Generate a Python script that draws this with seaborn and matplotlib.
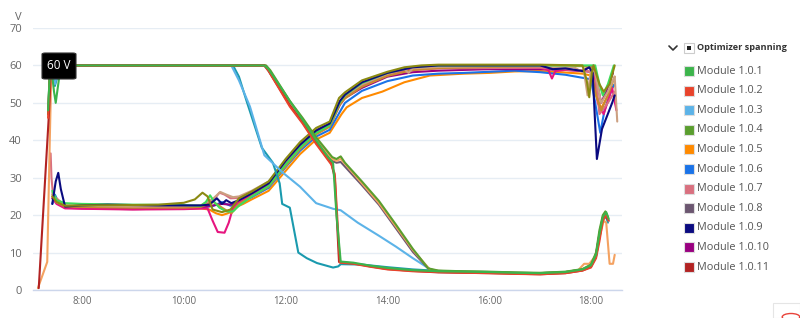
import matplotlib
matplotlib.use("Agg")
import matplotlib.pyplot as plt
import seaborn as sns
import pandas as pd
from matplotlib.patches import FancyBboxPatch, Rectangle, Circle
from matplotlib.lines import Line2D

# ---------------- data ----------------
# High-voltage group (start at 60 V, decline around noon)
m101_t = ["7:20","7:22","7:24","7:27","7:29","7:32","7:35","11:35","11:40","12:05","12:20","12:36","12:50","12:56","13:00","13:05","13:20","13:40","14:00","14:30","15:00","15:30","16:00","16:30","17:00","17:30","17:50","18:00","18:06","18:10","18:14","18:18","18:21"]
m101_v = [48,58,59,53,50,55,60,60,59,50.5,45.5,40,35.5,34,20,7.6,7.3,6.5,5.9,5.3,5.0,4.9,4.8,4.6,4.5,4.8,5.5,6.6,9.5,15,19.5,20.8,19]
m102_t = ["7:20","7:22","7:24","11:35","11:40","12:05","12:20","12:36","12:54","12:58","13:04","13:20","13:40","14:00","14:30","15:00","15:30","16:00","16:30","17:00","17:30","17:50","18:00","18:06","18:10","18:14","18:18","18:21"]
m102_v = [46,57,60,60,58.5,49,44.5,39,33.5,31,7.3,7.0,6.2,5.5,5.0,4.8,4.6,4.5,4.3,4.2,4.5,5.2,6.0,8.5,13,18.5,20,18.5]
m1011_t = ["7:09","7:21","7:23","7:25","11:35","11:40","12:05","12:20","12:36","12:54","12:58","13:03","13:20","13:40","14:00","14:30","15:00","16:00","17:00","17:30","17:50","18:00","18:06","18:10","18:14","18:17","18:20"]
m1011_v = [0.5,47,57,60,60,58.7,49.3,44.8,39.3,33.8,30,7.5,7.1,6.3,5.6,5.1,4.7,4.5,4.2,4.5,5.2,6.2,9,14,19,20.2,18.8]
m103_t = ["7:21","7:23","7:26","7:28","7:31","7:34","10:56","11:05","11:18","11:35","11:57","12:17","12:36","12:56","13:05","13:25","13:50","14:10","14:30","14:50","15:00","15:30","16:00","16:30","17:00","17:30","17:50","18:00","18:06","18:10","18:14","18:18","18:21"]
m103_v = [49,58,56,55,58,60,60,56,49,36,31.3,27.6,23.2,21.7,21.3,18,14.5,11.6,8.5,5.6,5.0,4.8,4.7,4.5,4.4,4.7,5.4,6.4,9,14.5,19,20.2,18.5]
m1012_t = ["7:21","7:23","7:26","7:28","7:31","7:34","10:58","11:05","11:14","11:32","11:45","11:53","11:56","12:05","12:10","12:15","12:25","12:37","12:56","13:02","13:05","13:30","14:00","14:30","15:00","15:30","16:00","16:30","17:00","17:30","17:50","18:00","18:06","18:10","18:14","18:18","18:20"]
m1012_v = [48,58,57,54.5,57,60,60,57,50.5,38,34,28.5,23,22,16,10,8.5,7.2,6.0,6.3,6.9,6.8,6.1,5.5,5.1,4.9,4.8,4.6,4.5,4.8,5.5,6.5,9.2,14.8,19,19.5,18]
m104_t = ["7:20","7:22","7:24","11:37","11:42","12:05","12:20","12:36","12:55","13:00","13:05","13:10","13:30","13:50","14:10","14:30","14:48","15:00","15:30","16:00","16:30","17:00","17:30","17:50","18:00","18:06","18:10","18:14","18:17","18:20"]
m104_v = [47,58,60,60,58.7,50.5,46,40.8,35.5,35,35.7,34,29,23.8,17.5,11,5.8,5.2,5.0,4.9,4.7,4.6,4.9,5.6,6.8,10,16,20,21,19.5]
m1013_t = ["7:08","7:19","7:22","7:24","11:36","11:41","12:05","12:20","12:36","12:55","13:00","13:05","13:30","13:50","14:10","14:30","14:50","15:00","15:30","16:00","16:30","17:00","17:30","17:45","17:52","17:58","18:05","18:10","18:15","18:18","18:22","18:26","18:28"]
m1013_v = [0.5,7.5,40,60,60,58.5,50,45.3,40.2,35,34.5,35,28.5,23.2,17,10.7,5.5,5.1,4.9,4.8,4.6,4.5,4.8,5.3,7,7,9,14,18.5,18,7,7,9.4]
m108_t = ["7:20","7:22","7:24","11:35","11:40","12:05","12:20","12:36","12:55","13:00","13:05","13:30","13:50","14:10","14:30","14:50","15:00","16:00","17:00","17:30","17:50","18:00","18:06","18:10","18:14","18:18","18:20"]
m108_v = [47,58,60,60,58.5,49.5,45,39.8,34.5,34,34.2,28,22.8,16.5,10.2,5.3,5.0,4.7,4.4,4.7,5.4,6.5,9.5,15,19.5,20.3,19]

# Rising group (about 22 V in the morning, about 60 V in the afternoon)
m109_t = ["7:25","7:29","7:32","7:35","7:40","8:00","8:30","9:00","9:30","10:00","10:20","10:30","10:39","10:45","10:50","10:56","11:05","11:20","11:40","12:00","12:17","12:36","12:52","13:04","13:10","13:30","14:00","14:30","15:00","15:30","16:00","16:30","17:00","17:15","17:30","17:50","17:58","18:02","18:07","18:13","18:25","18:28"]
m109_v = [23,29,31.3,27,22.3,22.6,22.8,22.7,22.6,22.6,22.6,22.8,24.5,23,24,23.2,24,25.8,28.5,34.5,38.8,42.6,44.5,50.5,52.2,55.5,58,59.5,60,60,60,60,60,59,59.2,58.5,59.5,58,35,43,50,52]
m106_t = ["7:25","7:28","7:31","7:35","7:40","8:00","9:00","10:00","10:20","10:35","10:45","10:55","11:05","11:20","11:40","12:00","12:17","12:36","12:52","13:05","13:10","13:30","14:00","14:30","15:00","15:30","16:00","16:30","17:00","17:30","17:50","18:00","18:05","18:11","18:16","18:25","18:28"]
m106_v = [23,25.5,24,23,22.2,22.3,22.1,22.0,22.0,22.5,23.5,22.5,23.2,24.8,27.3,32.8,37.2,41,42.8,48,50,53.2,55.8,57.3,57.8,58,58.3,58.6,58.2,57.5,56.7,56.3,50,42,48,54,55]
m105_t = ["7:25","7:30","7:35","7:40","8:00","9:00","10:00","10:20","10:30","10:38","10:45","10:52","11:00","11:10","11:20","11:40","12:00","12:17","12:36","12:52","13:06","13:12","13:30","13:54","14:20","14:50","15:30","16:00","16:30","17:00","17:30","17:50","18:00","18:06","18:12","18:20","18:28"]
m105_v = [25,23.5,22.8,22,21.9,21.8,21.7,21.8,21.5,20.5,20,20.5,22,23,24.2,26.5,31.8,36.3,40.2,42,47,48.8,51.3,53,55.5,57.3,57.8,58,58.4,58.5,58.1,57.8,57.3,52,48.5,52,55]
m107_t = ["7:23","7:24","7:26","7:30","7:40","8:00","9:00","10:00","10:20","10:35","10:42","10:48","10:55","11:05","11:20","11:40","12:00","12:17","12:36","12:52","13:04","13:10","13:30","14:00","14:30","15:00","16:00","17:00","17:30","17:55","18:05","18:10","18:20","18:28"]
m107_v = [36.5,30,25,24.5,22.5,22.4,22.2,22.2,22.4,24,26,25.5,24.5,24.6,26,28.6,34,38.5,42.4,44.2,50,51.8,54.5,57.5,58.7,59.2,59.3,59.4,59,58.5,58,47,50,53]
m1010_t = ["7:25","7:30","7:40","8:00","9:00","10:00","10:20","10:35","10:45","10:55","11:05","11:20","11:40","12:00","12:17","12:36","12:52","13:04","13:10","13:30","14:00","14:30","15:00","15:30","16:00","16:30","17:00","17:30","17:50","18:00","18:05","18:12","18:18","18:26"]
m1010_v = [24.5,23.5,22,21.8,21.6,21.8,22,22.6,23,22.8,23.6,25.3,28,33.6,38,41.8,43.8,49.5,51.3,54,57,58.2,58.6,58.8,59,59,59,58.8,58.5,58.3,58,50,53,58]
m1014_t = ["7:25","7:30","7:40","8:00","9:00","10:00","10:28","10:34","10:40","10:48","10:53","10:58","11:05","11:20","11:40","12:00","12:17","12:36","12:52","13:04","13:10","13:30","14:00","14:30","15:00","16:00","17:00","17:10","17:14","17:18","17:30","17:50","18:03","18:08","18:15","18:25","18:30"]
m1014_v = [24.5,23,21.8,21.7,21.5,21.6,21.8,18.5,15.5,15.3,18,22,23.5,25.3,28,33.6,38,42,44,50,51.5,54.5,57.5,59,59.3,59.4,59.4,58.7,56.5,58.5,58.8,58.6,60,50,47,54,48]
m1015_t = ["7:25","7:30","7:40","8:00","9:00","9:30","10:00","10:13","10:22","10:28","10:34","10:45","10:55","11:05","11:20","11:40","12:00","12:17","12:36","12:52","13:03","13:10","13:30","14:00","14:20","14:40","15:00","16:00","17:00","17:50","17:55","17:58","18:01","18:03","18:10","18:15","18:22","18:28"]
m1015_v = [25,23.5,22.5,22.6,22.7,22.8,23.3,24.2,26,25,21.5,20.8,21.5,24.5,26.3,29,35,39.5,43.3,45,51.3,52.8,56,58.3,59.5,60,60.2,60.2,60.2,60,56,51.5,58,60,55,53,55,60]
m1016_t = ["7:25","7:30","7:40","8:00","9:00","10:00","10:20","10:35","10:43","10:50","10:58","11:05","11:20","11:40","12:00","12:17","12:36","12:52","13:04","13:10","13:30","14:00","14:20","14:25","14:30","15:00","16:00","17:00","17:40","17:52","17:56","18:00","18:05","18:12","18:20","18:28","18:31"]
m1016_v = [26,23.5,22.6,22.5,22.3,22.4,22.6,24.5,26.2,25.5,24.8,25,26.5,29,34.6,39,42.8,44.6,50.3,52,55,57.8,59,58,59.2,59.6,59.8,59.8,59.5,58,52,59,58,50,53,57,45]
m1017_t = ["7:25","7:30","7:40","8:00","9:00","10:00","10:20","10:26","10:31","10:36","10:42","10:50","10:58","11:05","11:20","11:40","12:00","12:17","12:36","12:52","13:04","13:10","13:30","14:00","14:30","15:00","16:00","17:00","17:50","18:05","18:10","18:14","18:20","18:27"]
m1017_v = [26.5,24,23.2,23,22.8,22.7,22.5,23.5,25.3,23.5,22,21,21,22.5,25,27.8,33.5,38,42,44,50.2,52,55.3,58,59.6,60,60,60,60,60,55,52,55,60]
m1018_t = ["7:25","7:30","7:40","8:00","9:00","10:00","10:20","10:35","10:45","10:52","10:56","11:00","11:05","11:20","11:40","12:00","12:17","12:36","12:52","13:04","13:10","13:30","14:00","14:30","15:00","16:00","17:00","17:50","18:00","18:06","18:12","18:20","18:28"]
m1018_v = [25.5,23.5,22.3,22.2,22.0,22.0,22.2,23.5,22,21,20.5,21.5,23,25,27.6,33,37.6,41.6,43.6,49.6,51.2,54.3,57.2,58.8,59.3,59.6,59.8,59.8,59.5,52,48,52,57]

legend_names = ["Module 1.0.1","Module 1.0.2","Module 1.0.3","Module 1.0.4","Module 1.0.5",
                "Module 1.0.6","Module 1.0.7","Module 1.0.8","Module 1.0.9","Module 1.0.10","Module 1.0.11"]
legend_colors = ["#3cb44b","#e8432b","#5cb3e8","#5a9e2e","#ff8a00",
                 "#1a73e8","#d9707f","#6b5670","#0a0a80","#990080","#b22222"]
extra_names = ["Module 1.0.12","Module 1.0.13","Module 1.0.14","Module 1.0.15",
               "Module 1.0.16","Module 1.0.17","Module 1.0.18"]
extra_colors = ["#1a9aae","#f4a261","#e6157f","#8b8a12","#cca081","#3ddc5a","#c98a2e"]

series = [
    ("Module 1.0.5", m105_t, m105_v), ("Module 1.0.6", m106_t, m106_v),
    ("Module 1.0.10", m1010_t, m1010_v), ("Module 1.0.14", m1014_t, m1014_v),
    ("Module 1.0.7", m107_t, m107_v), ("Module 1.0.18", m1018_t, m1018_v),
    ("Module 1.0.16", m1016_t, m1016_v), ("Module 1.0.17", m1017_t, m1017_v),
    ("Module 1.0.9", m109_t, m109_v), ("Module 1.0.15", m1015_t, m1015_v),
    ("Module 1.0.12", m1012_t, m1012_v), ("Module 1.0.3", m103_t, m103_v),
    ("Module 1.0.8", m108_t, m108_v), ("Module 1.0.13", m1013_t, m1013_v),
    ("Module 1.0.4", m104_t, m104_v), ("Module 1.0.11", m1011_t, m1011_v),
    ("Module 1.0.2", m102_t, m102_v), ("Module 1.0.1", m101_t, m101_v),
]

x_ticks = [8, 10, 12, 14, 16, 18]
x_labels = ["8:00", "10:00", "12:00", "14:00", "16:00", "18:00"]
y_ticks = [0, 10, 20, 30, 40, 50, 60, 70]

def to_hours(ts):
    return [int(s.split(":")[0]) + int(s.split(":")[1]) / 60.0 for s in ts]

rows = []
for name, ts, vs in series:
    for h, v in zip(to_hours(ts), vs):
        rows.append({"module": name, "t": h, "v": v})
df = pd.DataFrame(rows)

palette = dict(zip(legend_names + extra_names, legend_colors + extra_colors))

# ---------------- figure ----------------
sns.set_style("white")
plt.rcParams["font.family"] = ["Open Sans", "DejaVu Sans"]

W, H = 800, 318
fig = plt.figure(figsize=(W / 100, H / 100), dpi=100)
ax = fig.add_axes([33 / W, 1 - 290 / H, (622 - 33) / W, (290 - 28) / H])

sns.lineplot(data=df, x="t", y="v", hue="module", palette=palette,
             hue_order=[s[0] for s in series], estimator=None, sort=False,
             units="module", legend=False, linewidth=1.5, ax=ax,
             solid_joinstyle="round")

ax.set_xlim(7.037, 18.61)
ax.set_ylim(0, 70)
ax.set_xticks(x_ticks)
ax.set_xticklabels(x_labels)
ax.set_yticks(y_ticks)
ax.set_xlabel("")
ax.set_ylabel("")
for s in ["top", "right", "left"]:
    ax.spines[s].set_visible(False)
ax.spines["bottom"].set_color("#ccd6eb")
ax.spines["bottom"].set_linewidth(1)
ax.grid(axis="y", color="#e6edf4", linewidth=1)
ax.grid(axis="x", visible=False)
ax.set_axisbelow(True)
ax.tick_params(axis="y", length=0, pad=8, labelsize=8, labelcolor="#666666")
ax.tick_params(axis="x", length=0, pad=4, labelsize=7, labelcolor="#666666")

fig.text(18 / W, 1 - 17 / H, "V", fontsize=8, color="#666666", ha="center", va="center")

# tooltip
tip = FancyBboxPatch((42 / W, 1 - 79 / H), 34 / W, 26 / H,
                     boxstyle="round,pad=0,rounding_size=0.004",
                     transform=fig.transFigure, fc="black", ec="#333333", lw=0.8, zorder=10)
fig.patches.append(tip)
fig.text(59 / W, 1 - 66 / H, "60 V", color="white", fontsize=8.5, ha="center", va="center", zorder=11)

# legend
fig.lines.append(Line2D([669 / W, 673 / W, 677 / W], [1 - 46 / H, 1 - 50 / H, 1 - 46 / H],
                        transform=fig.transFigure, color="#333333", lw=1.2))
fig.patches.append(Rectangle((684 / W, 1 - 53 / H), 10 / W, 10 / H, transform=fig.transFigure,
                             fc="white", ec="#cccccc", lw=0.8))
fig.patches.append(Rectangle((687 / W, 1 - 50 / H), 4 / W, 4 / H, transform=fig.transFigure,
                             fc="#222222", ec="none"))
fig.text(697 / W, 1 - 48 / H, "Optimizer spanning", fontsize=6.6, fontweight="bold",
         color="#333333", ha="left", va="center")
for k, (name, col) in enumerate(zip(legend_names, legend_colors)):
    yc = 71 + k * 19.6
    fig.patches.append(Rectangle((684 / W, 1 - (yc + 5) / H), 10 / W, 10 / H,
                                 transform=fig.transFigure, fc=col, ec="#dddddd", lw=0.8))
    fig.text(697 / W, 1 - yc / H, name, fontsize=7.8, color="#555555", ha="left", va="center")

# small corner button
fig.patches.append(Rectangle((773 / W, 0), 27 / W, 15 / H, transform=fig.transFigure,
                             fc="white", ec="#e5e5e5", lw=0.8))
fig.patches.append(Circle((791 / W, 1 / H), 0.011, transform=fig.transFigure,
                          fc="none", ec="#e8433a", lw=1.0))

fig.savefig("out.png", dpi=100)
